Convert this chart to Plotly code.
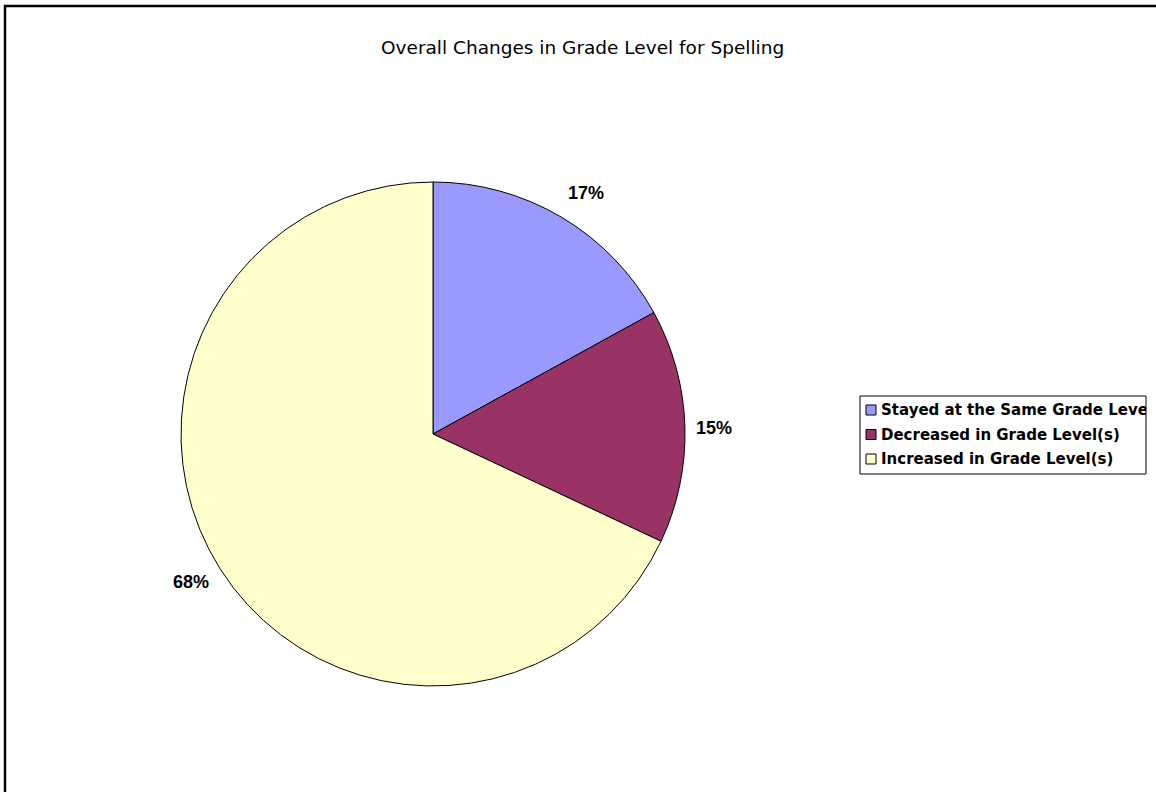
import numpy as np
import plotly.graph_objects as go

W, H = 1156, 792

title = "Overall Changes in Grade Level for Spelling"
categories = ["Stayed at the Same Grade Level", "Decreased in Grade Level(s)", "Increased in Grade Level(s)"]
values = [17, 15, 68]
colors = ["#9999FF", "#993366", "#FFFFCC"]

# pie geometry in pixels
cx, cy, R = 433, 434, 252
FONT = "DejaVu Sans, Verdana, sans-serif"
LABEL_FONT = "Liberation Sans, Arial, sans-serif"


def px(x):
    return x / W


def py(y):
    return 1 - y / H


fig = go.Figure()
fig.add_trace(go.Pie(
    labels=categories,
    values=values,
    sort=False,
    direction="clockwise",
    rotation=0,
    marker=dict(colors=colors, line=dict(color="#000000", width=1)),
    textinfo="none",
    hoverinfo="label+percent",
    showlegend=False,
    domain=dict(x=[px(cx - R), px(cx + R)], y=[py(cy + R), py(cy - R)]),
))

annotations = []
shapes = []

# percentage labels placed outside each slice near its mid-angle
label_radius = 1.13
label_nudge = [(8.5, 4), (-4, 2.5), (-2, -5)]
total = float(sum(values))
cum = np.cumsum([0] + values[:-1])
for v, c, (ndx, ndy) in zip(values, cum, label_nudge):
    ang = 2 * np.pi * (c + v / 2) / total
    lx = cx + R * label_radius * np.sin(ang) + ndx
    ly = cy - R * label_radius * np.cos(ang) + ndy
    annotations.append(dict(
        x=px(lx), y=py(ly), xref="paper", yref="paper",
        text=f"<b>{round(v / total * 100)}%</b>", showarrow=False,
        font=dict(family=LABEL_FONT, size=18, color="#000000"),
        xanchor="center", yanchor="middle",
    ))

# title
annotations.append(dict(
    x=px(582), y=py(48), xref="paper", yref="paper", text=title,
    showarrow=False, xanchor="center", yanchor="middle",
    font=dict(family=FONT, size=18.5, color="#000000"),
))

# outer frame (top and left edges visible)
shapes.append(dict(type="rect", xref="paper", yref="paper",
                   x0=px(5), x1=px(W + 10), y0=py(H + 10), y1=py(6),
                   line=dict(color="#000000", width=2.5), fillcolor="rgba(0,0,0,0)"))

# legend box
lg_x0, lg_y0, lg_x1, lg_y1 = 860, 396, 1146, 474
shapes.append(dict(type="rect", xref="paper", yref="paper",
                   x0=px(lg_x0), x1=px(lg_x1), y0=py(lg_y1), y1=py(lg_y0),
                   line=dict(color="#000000", width=1), fillcolor="#FFFFFF"))
row_y = [410, 434.5, 459]
for lab, col, yy in zip(categories, colors, row_y):
    shapes.append(dict(type="rect", xref="paper", yref="paper",
                       x0=px(866), x1=px(876), y0=py(yy + 5), y1=py(yy - 5),
                       line=dict(color="#000000", width=1), fillcolor=col))
    annotations.append(dict(
        x=px(879), y=py(yy), xref="paper", yref="paper", text=f"<b>{lab}</b>",
        showarrow=False, xanchor="left", yanchor="middle", align="left",
        width=lg_x1 - 879 - 2,
        font=dict(family=FONT, size=15, color="#000000"),
    ))

fig.update_layout(
    width=W, height=H,
    margin=dict(l=0, r=0, t=0, b=0),
    paper_bgcolor="#FFFFFF",
    plot_bgcolor="#FFFFFF",
    showlegend=False,
    annotations=annotations,
    shapes=shapes,
)

fig.write_html("out.html", config={"displayModeBar": False})
